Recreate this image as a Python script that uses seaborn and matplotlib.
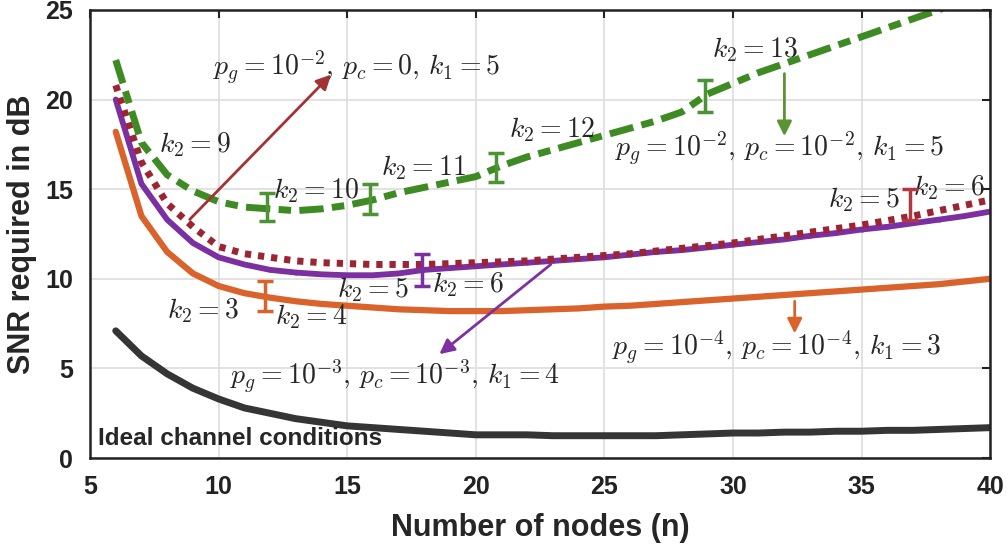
import numpy as np
import pandas as pd
import seaborn as sns
import matplotlib
import matplotlib.pyplot as plt
matplotlib.use("Agg")

nodes = list(range(6, 41))

snr_ideal = [7.1, 5.7, 4.7, 3.9, 3.3, 2.8, 2.5, 2.2, 2.0, 1.8, 1.7, 1.6, 1.5, 1.4, 1.3, 1.3, 1.3,
             1.25, 1.25, 1.25, 1.25, 1.25, 1.3, 1.35, 1.4, 1.4, 1.45, 1.45, 1.5, 1.5, 1.55, 1.55,
             1.6, 1.65, 1.7]
snr_1e4 = [18.2, 13.5, 11.5, 10.3, 9.6, 9.2, 8.95, 8.75, 8.6, 8.5, 8.4, 8.3, 8.25, 8.2, 8.2, 8.2,
           8.25, 8.3, 8.35, 8.45, 8.5, 8.6, 8.7, 8.8, 8.9, 9.0, 9.1, 9.2, 9.3, 9.4, 9.5, 9.6, 9.7,
           9.85, 10.0]
snr_1e3 = [20.0, 15.3, 13.3, 12.0, 11.2, 10.8, 10.5, 10.35, 10.25, 10.2, 10.2, 10.3, 10.5, 10.6,
           10.7, 10.8, 10.9, 11.0, 11.1, 11.2, 11.35, 11.5, 11.6, 11.75, 11.9, 12.05, 12.2, 12.4,
           12.55, 12.75, 12.9, 13.1, 13.3, 13.5, 13.75]
snr_1e2_pc0 = [20.8, 16.5, 14.2, 12.9, 11.8, 11.4, 11.2, 11.0, 10.9, 10.85, 10.8, 10.8, 10.8,
               10.85, 10.9, 10.95, 11.0, 11.1, 11.2, 11.3, 11.4, 11.55, 11.7, 11.85, 12.0, 12.2,
               12.4, 12.6, 12.8, 13.0, 13.25, 13.5, 13.8, 14.1, 14.4]
snr_1e2 = [22.2, 17.6, 15.8, 14.9, 14.3, 14.0, 13.9, 13.8, 13.9, 14.1, 14.4, 14.8, 15.1, 15.4,
           15.7, 16.3, 16.8, 17.2, 17.6, 18.0, 18.4, 18.8, 19.3, 20.3, 20.9, 21.5, 22.0, 22.5,
           23.0, 23.5, 24.0, 24.5, 25.0, 25.6, 26.2]

# error-bar markers where k2 switches: (x, low, high)
eb_orange = (11.8, 8.2, 9.9)
eb_purple = (17.9, 9.6, 11.4)
eb_red = (36.9, 13.3, 15.0)
eb_green = [(11.9, 13.2, 14.8), (15.9, 13.6, 15.3), (20.8, 15.4, 17.0), (28.9, 19.3, 21.1)]

sns.set_theme(style="whitegrid")
plt.rcParams["font.family"] = ["Liberation Sans", "DejaVu Sans"]
plt.rcParams["mathtext.fontset"] = "cm"

fig = plt.figure(figsize=(10.08, 5.48), dpi=100)
ax = fig.add_axes([0.0893, 0.164, 0.893, 0.818])

c_black = "#353535"
c_orange = "#d9632b"
c_purple = "#7b2fa0"
c_red = "#9c2534"
c_green = "#3d8b22"

sns.lineplot(x=nodes, y=snr_ideal, ax=ax, color=c_black, linewidth=5)
sns.lineplot(x=nodes, y=snr_1e4, ax=ax, color=c_orange, linewidth=4.5)
sns.lineplot(x=nodes, y=snr_1e3, ax=ax, color=c_purple, linewidth=4.2,
             marker="o", markersize=3, markeredgewidth=0)
sns.lineplot(x=nodes, y=snr_1e2_pc0, ax=ax, color=c_red, linewidth=5,
             linestyle=(0, (0.9, 1.0)))
sns.lineplot(x=nodes, y=snr_1e2, ax=ax, color=c_green, linewidth=5,
             linestyle=(0, (3.5, 1.2, 1.8, 1.2)))


def error_mark(x, lo, hi, color):
    ax.errorbar([x], [(lo + hi) / 2], yerr=[[(hi - lo) / 2]], color=color,
                capsize=6, capthick=2.5, elinewidth=2.5, zorder=5)


error_mark(*eb_orange, "#d9632b")
error_mark(*eb_purple, "#7b2fa0")
error_mark(*eb_red, "#b0393f")
for e in eb_green:
    error_mark(*e, "#4c9433")

fs = 20
ax.annotate("", xy=(14.45, 21.5), xytext=(8.8, 13.2),
            arrowprops=dict(arrowstyle="-|>", color="#a33333", lw=2, mutation_scale=22))
ax.text(9.8, 21.8, r"$p_g=10^{-2},\,p_c=0,\,k_1=5$", fontsize=fs, va="center")

ax.annotate("", xy=(32.0, 17.8), xytext=(32.0, 21.6),
            arrowprops=dict(arrowstyle="-|>", color="#5a9432", lw=2, mutation_scale=22))
ax.text(25.4, 17.3, r"$p_g=10^{-2},\,p_c=10^{-2},\,k_1=5$", fontsize=fs, va="center")

ax.annotate("", xy=(18.5, 5.7), xytext=(23.0, 10.9),
            arrowprops=dict(arrowstyle="-|>", color="#7e2fa0", lw=2, mutation_scale=22))
ax.text(10.45, 4.55, r"$p_g=10^{-3},\,p_c=10^{-3},\,k_1=4$", fontsize=fs, va="center")

ax.annotate("", xy=(32.4, 6.8), xytext=(32.4, 8.9),
            arrowprops=dict(arrowstyle="-|>", color="#d9632b", lw=2, mutation_scale=22))
ax.text(25.3, 6.2, r"$p_g=10^{-4},\,p_c=10^{-4},\,k_1=3$", fontsize=fs, va="center")

k2_labels = [(7.7, 17.5, 9), (12.1, 14.9, 10), (16.3, 16.2, 11), (21.3, 18.3, 12),
             (29.2, 22.8, 13), (8.0, 8.2, 3), (12.2, 7.9, 4), (14.6, 9.4, 5),
             (18.3, 9.7, 6), (33.7, 14.4, 5), (37.0, 15.1, 6)]
for lx, ly, k in k2_labels:
    ax.text(lx, ly, r"$k_2=%d$" % k, fontsize=fs, va="center")

ax.text(5.3, 1.1, "Ideal channel conditions", fontsize=17.5, fontweight="bold", va="center")

ax.set_xlim(5, 40)
ax.set_ylim(0, 25)
ax.set_xticks(range(5, 41, 5))
ax.set_yticks(range(0, 26, 5))
ax.grid(True, color="#dddddd", linewidth=1.2)
ax.tick_params(direction="in", length=6, width=1.5, labelsize=18, top=True, right=True,
               colors="#222222", pad=12)
for lab in ax.get_xticklabels() + ax.get_yticklabels():
    lab.set_fontweight("bold")
for s in ax.spines.values():
    s.set_visible(True)
    s.set_color("#222222")
    s.set_linewidth(1.8)
ax.set_xlabel("Number of nodes (n)", fontsize=22, fontweight="bold", labelpad=10)
ax.set_ylabel("SNR required in dB", fontsize=22, fontweight="bold", labelpad=6)

fig.savefig("out.png", dpi=100)
